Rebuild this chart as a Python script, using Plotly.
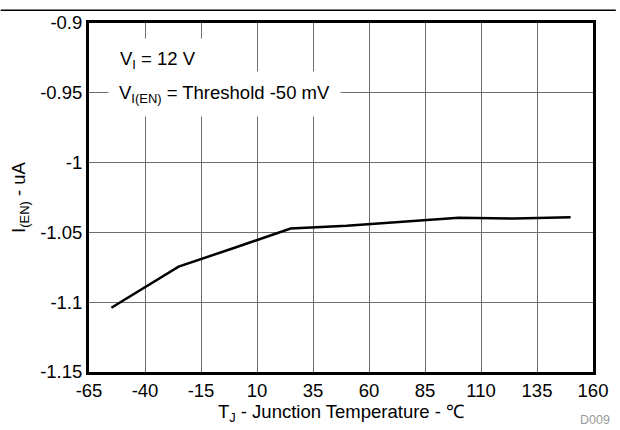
import plotly.graph_objects as go

# Data
temp_c = [-55, -25, 0, 25, 50, 75, 100, 125, 150]
i_en_ua = [-1.104, -1.0745, -1.061, -1.0472, -1.0453, -1.0423, -1.0395, -1.0401, -1.0392]

x_tickvals = [-65, -40, -15, 10, 35, 60, 85, 110, 135, 160]
x_ticktext = ["-65", "-40", "-15", "10", "35", "60", "85", "110", "135", "160"]
y_tickvals = [-1.15, -1.1, -1.05, -1.0, -0.95, -0.9]
y_ticktext = ["-1.15", "-1.1", "-1.05", "-1", "-0.95", "-0.9"]

FONT = "Liberation Sans, Arial, sans-serif"
FS = 18.5

fig = go.Figure()
fig.add_trace(go.Scatter(
    x=temp_c, y=i_en_ua, mode="lines",
    line=dict(color="black", width=2.5),
    showlegend=False, hoverinfo="skip",
))

axis_common = dict(
    showgrid=True, gridcolor="#6e6e6e", gridwidth=1,
    showline=True, linecolor="black", linewidth=3, mirror=True,
    ticks="", zeroline=False,
    tickfont=dict(family=FONT, size=FS, color="black"),
)

fig.update_xaxes(
    range=[-65, 160], tickvals=x_tickvals, ticktext=x_ticktext,
    title=dict(text="T<sub>J</sub> - Junction Temperature - ℃",
               font=dict(family=FONT, size=FS, color="black"), standoff=2),
    **axis_common,
)
fig.update_yaxes(
    range=[-1.15, -0.9], tickvals=y_tickvals, ticktext=y_ticktext,
    title=dict(text="I<sub>(EN)</sub> - uA",
               font=dict(family=FONT, size=FS, color="black"), standoff=10),
    **axis_common,
)

fig.add_annotation(
    xref="paper", yref="paper", x=0.041, y=0.893,
    xanchor="left", yanchor="middle",
    text="V<sub>I</sub> = 12 V", showarrow=False,
    font=dict(family=FONT, size=FS, color="black"),
    bgcolor="white", borderpad=9,
)
fig.add_annotation(
    xref="paper", yref="paper", x=0.037, y=0.797,
    xanchor="left", yanchor="middle",
    text="V<sub>I(EN)</sub> = Threshold -50 mV", showarrow=False,
    font=dict(family=FONT, size=FS, color="black"),
    bgcolor="white", borderpad=10,
)
fig.add_annotation(
    xref="paper", yref="paper", x=1.037, y=-0.137,
    xanchor="right", yanchor="middle",
    text="D009", showarrow=False,
    font=dict(family=FONT, size=12.5, color="#999999"),
)
# top rule across the full width
fig.add_shape(
    type="line", xref="paper", yref="paper",
    x0=-89 / 508, x1=531 / 508, y0=1 + 13 / 355, y1=1 + 13 / 355,
    line=dict(color="black", width=1.5),
)

fig.update_layout(
    width=620, height=430,
    margin=dict(l=89, r=23, t=17, b=58),
    paper_bgcolor="white", plot_bgcolor="white",
    font=dict(family=FONT),
)

fig.write_html("out.html")
